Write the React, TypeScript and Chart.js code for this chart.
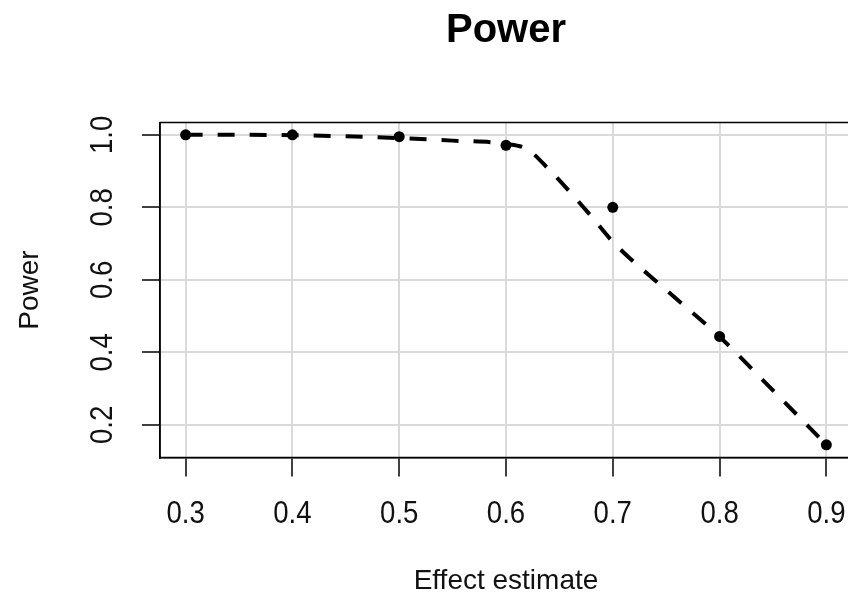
import React, { useEffect, useRef } from "react";
import { Chart, registerables } from "chart.js";

Chart.register(...registerables);

const effectX = [0.3, 0.4, 0.5, 0.6, 0.7, 0.8, 0.9];
const powerY = [1.0, 1.0, 0.995, 0.971, 0.8, 0.444, 0.145];

const curveX = [0.3, 0.35, 0.4, 0.45, 0.5, 0.55, 0.6, 0.62, 0.64, 0.66, 0.68, 0.7, 0.75, 0.8, 0.85, 0.9];
const curveY = [1.0, 1.0, 0.999, 0.996, 0.991, 0.984, 0.975, 0.96, 0.905, 0.842, 0.775, 0.705, 0.572, 0.443, 0.295, 0.145];

const xTicks = [0.3, 0.4, 0.5, 0.6, 0.7, 0.8, 0.9];
const xTickLabels = ["0.3", "0.4", "0.5", "0.6", "0.7", "0.8", "0.9"];
const yTicks = [0.2, 0.4, 0.6, 0.8, 1.0];
const yTickLabels = ["0.2", "0.4", "0.6", "0.8", "1.0"];

const FONT = "'Liberation Sans', Arial, Helvetica, sans-serif";

const labelPlugin = {
  id: "rLabels",
  afterDraw(chart: any) {
    const ctx = chart.ctx;
    const xs = chart.scales.x;
    const ys = chart.scales.y;
    const area = chart.chartArea;
    ctx.save();
    ctx.strokeStyle = "#000";
    ctx.lineWidth = 1.5;
    ctx.strokeRect(area.left, area.top, area.right - area.left, area.bottom - area.top);
    ctx.fillStyle = "#111";
    ctx.font = `30px ${FONT}`;
    ctx.textAlign = "center";
    ctx.textBaseline = "middle";
    xTicks.forEach((v, i) => {
      ctx.save();
      ctx.translate(xs.getPixelForValue(v), xs.top + 56.5);
      ctx.scale(0.92, 1.05);
      ctx.fillText(xTickLabels[i], 0, 0);
      ctx.restore();
    });
    yTicks.forEach((v, i) => {
      const py = ys.getPixelForValue(v);
      ctx.save();
      ctx.translate(ys.right - 56.5, py);
      ctx.rotate(-Math.PI / 2);
      ctx.scale(0.92, 1.05);
      ctx.fillText(yTickLabels[i], 0, 0);
      ctx.restore();
    });
    ctx.restore();
  },
};

export default function App() {
  const ref = useRef<HTMLCanvasElement | null>(null);

  useEffect(() => {
    if (!ref.current) return;
    const chart = new Chart(ref.current, {
      type: "line",
      data: {
        datasets: [
          {
            label: "Fitted",
            data: curveX.map((x, i) => ({ x, y: curveY[i] })),
            borderColor: "#000",
            borderWidth: 4,
            borderDash: [17, 15],
            pointRadius: 0,
            cubicInterpolationMode: "monotone",
            fill: false,
          },
          {
            label: "Power",
            data: effectX.map((x, i) => ({ x, y: powerY[i] })),
            showLine: false,
            pointRadius: 5.5,
            pointBackgroundColor: "#000",
            pointBorderColor: "#000",
            pointBorderWidth: 0,
          },
        ],
      },
      options: {
        animation: false,
        responsive: true,
        maintainAspectRatio: false,
        layout: { padding: { left: 0, right: 8, top: 0, bottom: 0 } },
        plugins: {
          legend: { display: false },
          tooltip: { enabled: false },
          title: {
            display: true,
            text: "Power",
            fullSize: false,
            color: "#000",
            font: { family: FONT, size: 40, weight: "bold", lineHeight: 1.2 },
            padding: { top: 6.5, bottom: 68 },
          },
        },
        scales: {
          x: {
            type: "linear",
            min: 0.276,
            max: 0.924,
            afterBuildTicks: (s: any) => {
              s.ticks = xTicks.map((v) => ({ value: v }));
            },
            afterFit: (s: any) => {
              s.height = 149.5;
            },
            ticks: { display: false },
            grid: {
              color: "#dadada",
              lineWidth: 2,
              drawTicks: true,
              tickLength: 19,
              tickColor: "#000",
              tickWidth: 1.5,
            },
            border: { display: true, color: "#000", width: 1.5 },
            title: {
              display: true,
              text: "Effect estimate",
              color: "#111",
              font: { family: FONT, size: 28, lineHeight: 1.2 },
              padding: { top: 0, bottom: 8.7 },
            },
          },
          y: {
            type: "linear",
            min: 0.11,
            max: 1.034,
            afterBuildTicks: (s: any) => {
              s.ticks = yTicks.map((v) => ({ value: v }));
            },
            afterFit: (s: any) => {
              s.width = 160;
            },
            ticks: { display: false },
            grid: {
              color: "#dadada",
              lineWidth: 2,
              drawTicks: true,
              tickLength: 18,
              tickColor: "#000",
              tickWidth: 1.5,
            },
            border: { display: true, color: "#000", width: 1.5 },
            title: {
              display: true,
              text: "Power",
              color: "#111",
              font: { family: FONT, size: 28, lineHeight: 1.2 },
              padding: { top: 13.2, bottom: 0 },
            },
          },
        },
      },
      plugins: [labelPlugin],
    } as any);
    return () => chart.destroy();
  }, []);

  return (
    <div
      style={{
        position: "fixed",
        left: 0,
        top: 0,
        width: 848,
        height: 607,
        overflow: "hidden",
        background: "#fff",
      }}
    >
      <div style={{ position: "relative", width: 860, height: 607 }}>
        <canvas ref={ref} />
      </div>
    </div>
  );
}
